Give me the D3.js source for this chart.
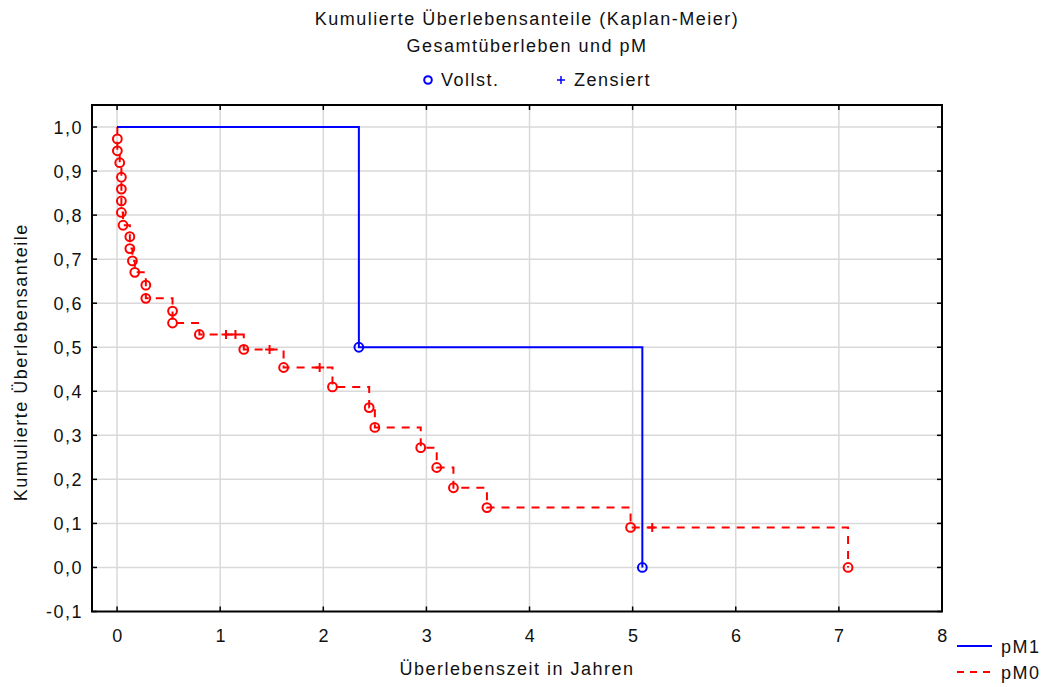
<!DOCTYPE html>
<html>
<head>
<meta charset="utf-8">
<script src="https://cdn.jsdelivr.net/npm/d3@7"></script>
<style>
  body { margin: 0; background: #fff; }
  text { font-family: "Liberation Sans", Arial, sans-serif; fill: #111; font-size: 18px; letter-spacing: 1.5px; }
</style>
</head>
<body>
<svg id="chart" width="1050" height="687"></svg>
<script>
// pM1 group: time (years), survival, status (1 = event, 0 = censored)
const pM1Time = [2.345, 5.094];
const pM1Surv = [0.5, 0.0];
const pM1Status = [1, 1];

// pM0 group
const pM0Time = [0.003, 0.003, 0.026, 0.042, 0.042, 0.042, 0.042, 0.058, 0.124, 0.124,
                 0.149, 0.172, 0.279, 0.279, 0.538, 0.538, 0.798, 1.057, 1.148, 1.229,
                 1.479, 1.615, 1.965, 2.089, 2.445, 2.5, 2.945, 3.1, 3.262, 3.587,
                 4.98, 5.19, 7.089];
const pM0Surv = [0.973, 0.946, 0.919, 0.886, 0.859, 0.832, 0.806, 0.777, 0.751, 0.724,
                 0.696, 0.67, 0.641, 0.611, 0.582, 0.555, 0.529, 0.529, 0.529, 0.495,
                 0.495, 0.454, 0.454, 0.41, 0.363, 0.318, 0.272, 0.227, 0.181, 0.136,
                 0.091, 0.091, 0.0];
const pM0Status = [1, 1, 1, 1, 1, 1, 1, 1, 1, 1,
                   1, 1, 1, 1, 1, 1, 1, 0, 0, 1,
                   0, 1, 0, 1, 1, 1, 1, 1, 1, 1,
                   1, 0, 1];

const xTicks = [0, 1, 2, 3, 4, 5, 6, 7, 8];
const yTicks = [-0.1, 0, 0.1, 0.2, 0.3, 0.4, 0.5, 0.6, 0.7, 0.8, 0.9, 1.0];

const svg = d3.select('#chart');
const pLeft = 92, pRight = 942, pTop = 105, pBottom = 611.5;

const x = d3.scaleLinear().domain([-0.243, 8]).range([pLeft, pRight]);
const y = d3.scaleLinear().domain([-0.1, 1.05]).range([pBottom, pTop]);

// Grid
svg.append('g').selectAll('line')
    .data(xTicks.filter(d => d < 8))
    .enter().append('line')
    .attr('x1', d => x(d)).attr('x2', d => x(d))
    .attr('y1', pTop).attr('y2', pBottom)
    .attr('stroke', '#d9d9d9').attr('stroke-width', 1.5);

svg.append('g').selectAll('line')
    .data(yTicks.filter(d => d > -0.1))
    .enter().append('line')
    .attr('x1', pLeft).attr('x2', pRight)
    .attr('y1', d => y(d)).attr('y2', d => y(d))
    .attr('stroke', '#d9d9d9').attr('stroke-width', 1.5);

// Inward ticks on all sides
const tl = 5;
const tickG = svg.append('g').attr('stroke', '#000').attr('stroke-width', 1.5);
xTicks.forEach(d => {
    tickG.append('line').attr('x1', x(d)).attr('x2', x(d)).attr('y1', pBottom).attr('y2', pBottom - tl);
    tickG.append('line').attr('x1', x(d)).attr('x2', x(d)).attr('y1', pTop).attr('y2', pTop + tl);
});
yTicks.forEach(d => {
    tickG.append('line').attr('x1', pLeft).attr('x2', pLeft + tl).attr('y1', y(d)).attr('y2', y(d));
    tickG.append('line').attr('x1', pRight).attr('x2', pRight - tl).attr('y1', y(d)).attr('y2', y(d));
});

// Frame
svg.append('rect')
    .attr('x', pLeft).attr('y', pTop)
    .attr('width', pRight - pLeft).attr('height', pBottom - pTop)
    .attr('fill', 'none').attr('stroke', '#000').attr('stroke-width', 2);

// Tick labels
const fmt = d => d3.format('.1f')(d).replace('.', ',').replace('−', '-');
svg.append('g').selectAll('text')
    .data(yTicks)
    .enter().append('text')
    .attr('x', pLeft - 9).attr('y', d => y(d) + 6.5)
    .attr('text-anchor', 'end')
    .text(fmt);

svg.append('g').selectAll('text')
    .data(xTicks)
    .enter().append('text')
    .attr('x', d => x(d) + 1).attr('y', pBottom + 30)
    .attr('text-anchor', 'middle')
    .text(d => d);

// Curves
const line = d3.line()
    .x(d => x(d[0]))
    .y(d => y(d[1]))
    .curve(d3.curveStepAfter);

function drawGroup(times, surv, status, color, dash) {
    const pts = [[0, 1]].concat(times.map((t, i) => [t, surv[i]]));
    svg.append('path')
        .datum(pts)
        .attr('d', line)
        .attr('fill', 'none')
        .attr('stroke', color)
        .attr('stroke-width', 2)
        .attr('stroke-dasharray', dash);

    const g = svg.append('g');
    times.forEach((t, i) => {
        if (status[i] === 1) {
            g.append('circle')
                .attr('cx', x(t)).attr('cy', y(surv[i])).attr('r', 4.4)
                .attr('fill', 'none').attr('stroke', color).attr('stroke-width', 2);
        } else {
            g.append('path')
                .attr('d', `M${x(t) - 4.5},${y(surv[i])}h9M${x(t)},${y(surv[i]) - 4.5}v9`)
                .attr('stroke', color).attr('stroke-width', 2);
        }
    });
}

drawGroup(pM0Time, pM0Surv, pM0Status, '#ff0000', '8,7');
drawGroup(pM1Time, pM1Surv, pM1Status, '#0000ff', null);

// Titles
svg.append('text').attr('x', 527).attr('y', 25).attr('text-anchor', 'middle')
    .text('Kumulierte Überlebensanteile (Kaplan-Meier)');
svg.append('text').attr('x', 527).attr('y', 52).attr('text-anchor', 'middle')
    .text('Gesamtüberleben und pM');

// Top legend
svg.append('circle').attr('cx', 428).attr('cy', 80).attr('r', 3.8)
    .attr('fill', 'none').attr('stroke', '#0000ff').attr('stroke-width', 2);
svg.append('text').attr('x', 441).attr('y', 86).text('Vollst.');
svg.append('path').attr('d', 'M557,80h8M561,76v8').attr('stroke', '#0000ff').attr('stroke-width', 1.5);
svg.append('text').attr('x', 574).attr('y', 86).text('Zensiert');

// Axis titles
svg.append('text').attr('x', 517).attr('y', 675).attr('text-anchor', 'middle')
    .text('Überlebenszeit in Jahren');
svg.append('text')
    .attr('transform', `translate(27,${(pTop + pBottom) / 2 + 4}) rotate(-90)`)
    .attr('text-anchor', 'middle')
    .text('Kumulierte Überlebensanteile');

// Bottom-right legend
svg.append('line').attr('x1', 957).attr('x2', 992).attr('y1', 646).attr('y2', 646)
    .attr('stroke', '#0000ff').attr('stroke-width', 2);
svg.append('text').attr('x', 1001).attr('y', 653).text('pM1');
svg.append('line').attr('x1', 957).attr('x2', 992).attr('y1', 672).attr('y2', 672)
    .attr('stroke', '#ff0000').attr('stroke-width', 2).attr('stroke-dasharray', '7,6');
svg.append('text').attr('x', 1001).attr('y', 679).text('pM0');
</script>
</body>
</html>
